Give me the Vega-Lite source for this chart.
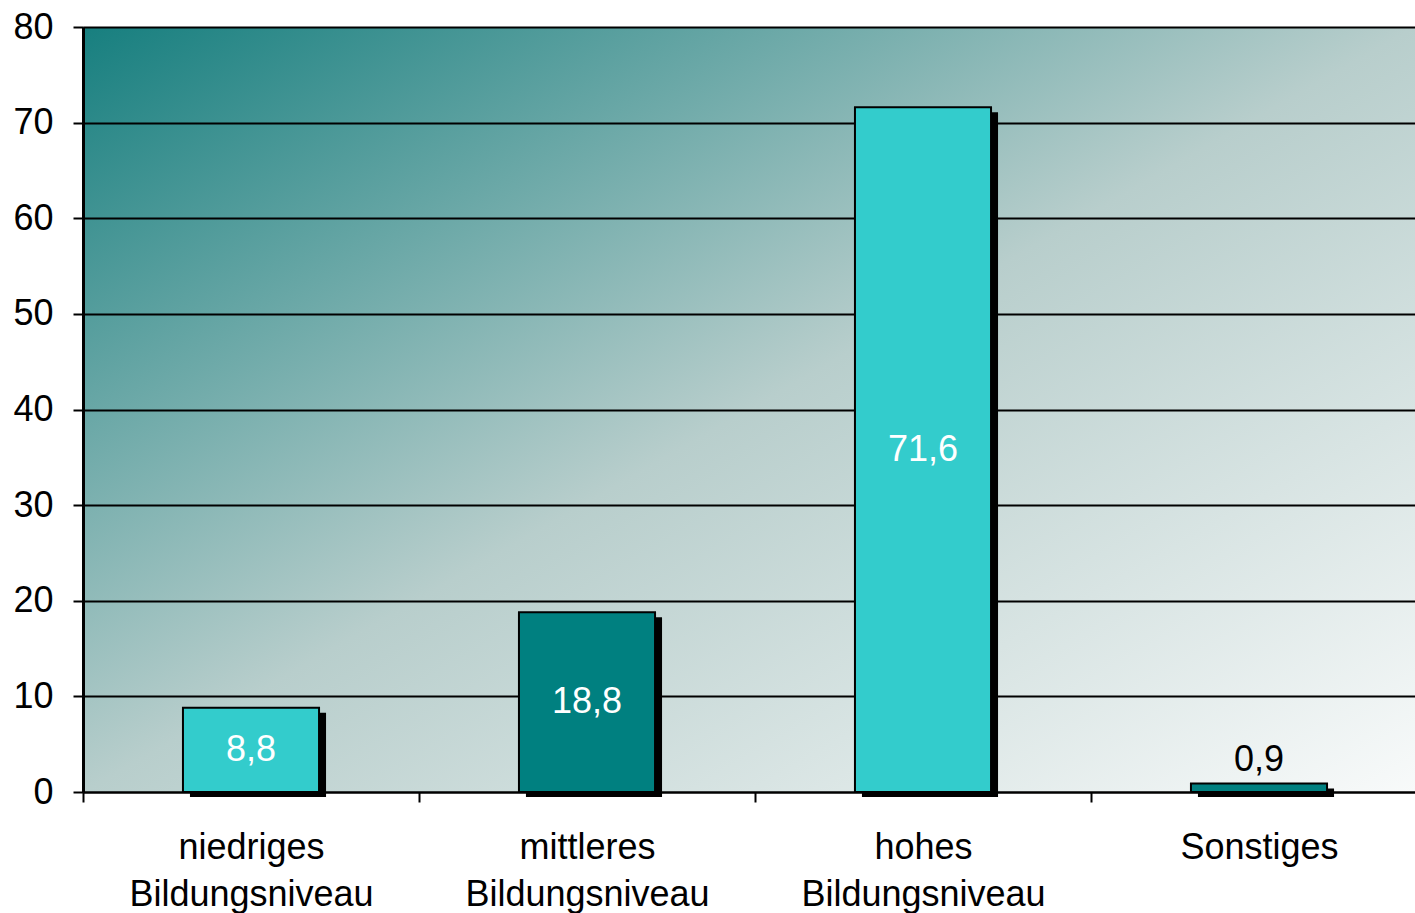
{
  "$schema": "https://vega.github.io/schema/vega-lite/v6.json",
  "width": 1332,
  "height": 765,
  "autosize": {"type": "none"},
  "padding": {"left": 83, "top": 27, "right": 0, "bottom": 121},
  "background": "white",
  "config": {
    "locale": {"number": {"decimal": ",", "thousands": ".", "grouping": [3], "currency": ["", " €"]}},
    "font": "Liberation Sans",
    "view": {
      "stroke": null,
      "fill": {
        "gradient": "linear",
        "x1": 0, "y1": 0, "x2": 1, "y2": 1,
        "stops": [
          {"offset": 0, "color": "#177f7f"},
          {"offset": 0.5, "color": "#b8cecc"},
          {"offset": 1, "color": "#f8fafa"}
        ]
      }
    }
  },
  "data": {
    "values": [
      {"kategorie": "niedriges Bildungsniveau", "wert": 8.8},
      {"kategorie": "mittleres Bildungsniveau", "wert": 18.8},
      {"kategorie": "hohes Bildungsniveau", "wert": 71.6},
      {"kategorie": "Sonstiges", "wert": 0.9}
    ]
  },
  "encoding": {
    "x": {
      "field": "kategorie",
      "type": "nominal",
      "sort": null,
      "scale": {"range": [0, 1344], "paddingInner": 0, "paddingOuter": 0},
      "axis": {
        "title": null,
        "labelAngle": 0,
        "tickBand": "extent",
        "domainColor": "black",
        "domainWidth": 2,
        "tickColor": "black",
        "tickWidth": 2,
        "tickSize": 10,
        "labelFontSize": 36,
        "labelColor": "black",
        "labelPadding": 28,
        "labelLineHeight": 47,
        "labelLimit": 0,
        "labelExpr": "datum.value == null ? '' : (datum.value == 'Sonstiges' ? datum.value : split(datum.value, ' '))"
      }
    },
    "y": {
      "field": "wert",
      "type": "quantitative",
      "scale": {"domain": [0, 80], "nice": false},
      "axis": {
        "title": null,
        "values": [0, 10, 20, 30, 40, 50, 60, 70, 80],
        "grid": true,
        "gridColor": "black",
        "gridWidth": 2,
        "gridOpacity": 1,
        "domainColor": "black",
        "domainWidth": 3,
        "tickColor": "black",
        "tickWidth": 2,
        "tickSize": 10,
        "labelFontSize": 36,
        "labelColor": "black",
        "labelPadding": 20
      }
    }
  },
  "layer": [
    {
      "mark": {"type": "bar", "width": {"band": 0.405}, "color": "black", "xOffset": 7, "yOffset": 5, "y2Offset": 2},
      "encoding": {}
    },
    {
      "mark": {"type": "bar", "width": {"band": 0.405}, "stroke": "black", "strokeWidth": 2},
      "encoding": {
        "color": {
          "field": "kategorie",
          "type": "nominal",
          "sort": null,
          "scale": {"domain": ["niedriges Bildungsniveau", "mittleres Bildungsniveau", "hohes Bildungsniveau", "Sonstiges"], "range": ["#33cccc", "#008080", "#33cccc", "#008080"]},
          "legend": null
        }
      }
    },
    {
      "transform": [{"filter": "datum.wert > 5"}, {"calculate": "datum.wert / 2", "as": "mitte"}],
      "mark": {"type": "text", "color": "white", "fontSize": 36, "baseline": "middle", "align": "center"},
      "encoding": {
        "y": {"field": "mitte", "type": "quantitative"},
        "text": {"field": "wert", "type": "quantitative", "format": ".1f"}
      }
    },
    {
      "transform": [{"filter": "datum.wert <= 5"}],
      "mark": {"type": "text", "color": "black", "fontSize": 36, "baseline": "alphabetic", "align": "center", "dy": -12},
      "encoding": {
        "text": {"field": "wert", "type": "quantitative", "format": ".1f"}
      }
    }
  ]
}
